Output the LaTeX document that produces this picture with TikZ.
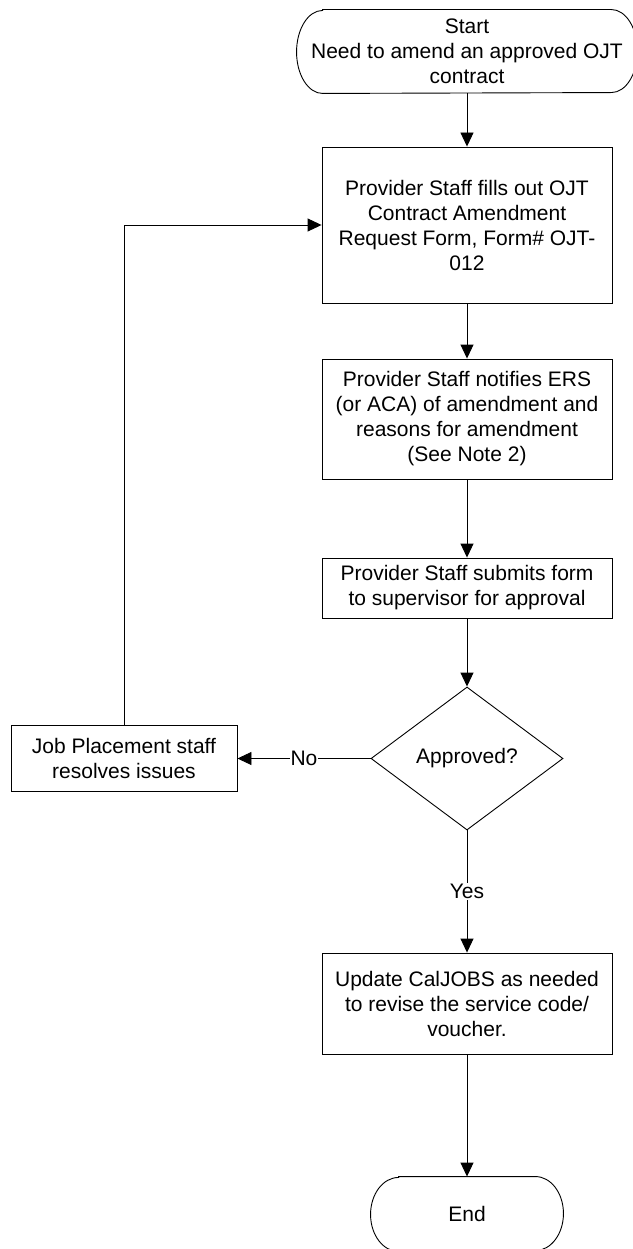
\documentclass[tikz,border=0pt]{standalone}
\usepackage{fontspec}
\setmainfont{Liberation Sans}
\usetikzlibrary{shapes.geometric,arrows.meta}

\newcommand{\termoutline}[3]{%
        \draw ([xshift=#2]#1.north west) -- ([xshift=-#2]#1.north east)
                arc[start angle=90,end angle=-90,x radius=#2,y radius=#3]
                -- ([xshift=#2]#1.south west)
                arc[start angle=270,end angle=90,x radius=#2,y radius=#3] -- cycle;}

\begin{document}
\begin{tikzpicture}[x=1pt,y=-1pt,line width=0.9pt,
        font=\fontsize{21}{25}\selectfont,
        box/.style={rectangle,draw,align=center,minimum width=290pt,inner sep=0pt},
        term/.style={rectangle,align=center,inner sep=0pt},
        arr/.style={-{Triangle[length=14pt,width=13pt]}},
        lbl/.style={fill=white,inner sep=1pt}]
        \useasboundingbox (0,0) rectangle (632,1249);

        \node[term,minimum width=340pt,minimum height=83pt] (start) at (467,51.5) {Start\\Need to amend an approved OJT\\contract};
        \node[box,minimum height=156pt] (fill) at (467,225) {Provider Staff fills out OJT\\Contract Amendment\\Request Form, Form\# OJT-\\012};
        \node[box,minimum height=120pt] (notify) at (467,419) {Provider Staff notifies ERS\\(or ACA) of amendment and\\reasons for amendment\\(See Note 2)};
        \node[box,minimum height=60pt] (submit) at (467,588) {Provider Staff submits form\\to supervisor for approval};
        \node[diamond,draw,minimum width=192pt,minimum height=143pt,inner sep=0pt] (approved) at (467,758.5) {Approved?};
        \node[box,minimum width=226pt,minimum height=66pt] (resolve) at (124,758.5) {Job Placement staff\\resolves issues};
        \node[box,minimum height=101pt] (update) at (467,1003.5) {Update CalJOBS as needed\\to revise the service code/\\voucher.};
        \node[term,minimum width=192pt,minimum height=74pt] (stop) at (467,1214) {End};

        \termoutline{start}{26pt}{41.5pt}
        \termoutline{stop}{28pt}{37pt}

        \draw[arr] (start) -- (fill);
        \draw[arr] (fill) -- (notify);
        \draw[arr] (notify) -- (submit);
        \draw[arr] (submit) -- (approved);
        \draw[arr] (approved) -- node[lbl] {No} (resolve);
        \draw[arr] (resolve) |- (fill);
        \draw[arr] (approved) -- node[lbl] {Yes} (update);
        \draw[arr] (update) -- (stop);
    \end{tikzpicture}
\end{document}
